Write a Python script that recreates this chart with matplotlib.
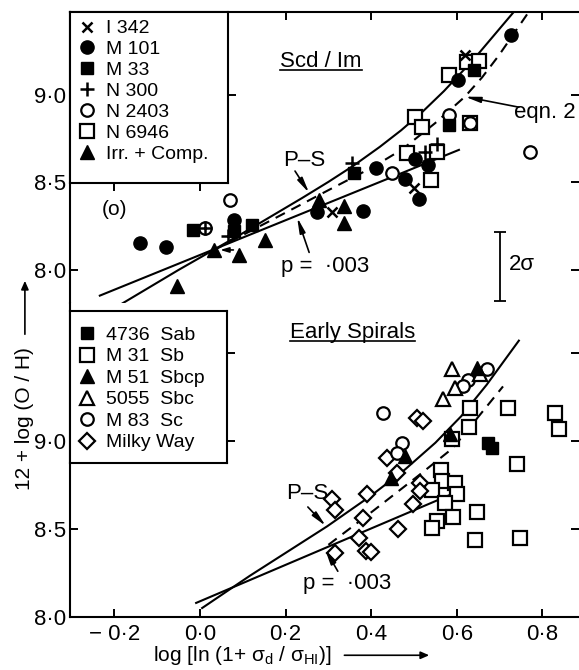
import matplotlib
matplotlib.use('Agg')
import matplotlib.pyplot as plt
from matplotlib.lines import Line2D
from matplotlib.patches import FancyArrowPatch
from matplotlib.ticker import FixedLocator, FuncFormatter

plt.rcParams['font.family'] = ['Liberation Sans', 'DejaVu Sans']
plt.rcParams['mathtext.fontset'] = 'custom'
plt.rcParams['mathtext.rm'] = 'Liberation Sans'
plt.rcParams['axes.linewidth'] = 1.5

# ---------------- Scd / Im panel ----------------
i342_x = [0.619, 0.308, 0.500]
i342_y = [9.229, 8.331, 8.469]
m101_x = [0.727, 0.603, 0.502, 0.533, 0.479, 0.512, 0.411, 0.273, 0.381, -0.140, -0.079, 0.079]
m101_y = [9.343, 9.086, 8.634, 8.600, 8.520, 8.406, 8.583, 8.331, 8.337, 8.154, 8.131, 8.286]
m33_x = [0.640, 0.582, 0.360, -0.016, 0.121, 0.079]
m33_y = [9.143, 8.829, 8.554, 8.229, 8.257, 8.223]
n300_x = [0.355, 0.012, 0.526, 0.554, 0.066]
n300_y = [8.611, 8.240, 8.674, 8.720, 8.196]
n2403_x = [0.012, 0.070, 0.449, 0.582, 0.631, 0.771]
n2403_y = [8.240, 8.400, 8.554, 8.886, 8.840, 8.674]
n6946_x = [0.624, 0.652, 0.582, 0.502, 0.519, 0.484, 0.554, 0.540, 0.631]
n6946_y = [9.189, 9.194, 9.114, 8.874, 8.817, 8.669, 8.674, 8.514, 8.840]
irr_x = [0.278, 0.336, 0.336, 0.152, 0.033, 0.091, -0.054]
irr_y = [8.400, 8.366, 8.269, 8.171, 8.114, 8.086, 7.909]

ps_top_x = [-0.194, -0.05, 0.10, 0.238, 0.30, 0.36, 0.42, 0.47, 0.52, 0.57, 0.64, 0.733]
ps_top_y = [7.79, 8.00, 8.21, 8.41, 8.503, 8.598, 8.703, 8.798, 8.904, 9.022, 9.205, 9.474]
eq2_top_x = [0.03, 0.168, 0.301, 0.402, 0.472, 0.549, 0.619, 0.659, 0.698, 0.768]
eq2_top_y = [8.11, 8.286, 8.457, 8.585, 8.688, 8.838, 8.99, 9.10, 9.225, 9.474]
p003_top_x = [-0.234, 0.605]
p003_top_y = [7.853, 8.686]

# ---------------- Early spirals panel ----------------
sab_x = [0.673, 0.682]
sab_y = [8.989, 8.960]
m31_x = [0.631, 0.720, 0.829, 0.839, 0.629, 0.589, 0.741, 0.563, 0.565, 0.596,
         0.542, 0.600, 0.572, 0.591, 0.554, 0.542, 0.648, 0.643, 0.748]
m31_y = [9.188, 9.188, 9.159, 9.068, 9.080, 9.011, 8.869, 8.835, 8.773, 8.761,
         8.722, 8.699, 8.648, 8.568, 8.545, 8.506, 8.594, 8.438, 8.449]
m51_x = [0.647, 0.584, 0.479, 0.447]
m51_y = [9.415, 9.040, 8.915, 8.790]
n5055_x = [0.589, 0.654, 0.596, 0.568]
n5055_y = [9.410, 9.380, 9.300, 9.240]
m83_x = [0.671, 0.626, 0.614, 0.428, 0.472, 0.460]
m83_y = [9.410, 9.347, 9.310, 9.160, 8.989, 8.932]
mw_x = [0.507, 0.521, 0.437, 0.460, 0.514, 0.514, 0.498, 0.390, 0.381, 0.463,
        0.371, 0.308, 0.315, 0.315, 0.388, 0.400]
mw_y = [9.131, 9.114, 8.903, 8.818, 8.761, 8.716, 8.642, 8.700, 8.563, 8.500,
        8.449, 8.670, 8.608, 8.364, 8.375, 8.369]

ps_bot_x = [0.005, 0.117, 0.297, 0.40, 0.48, 0.55, 0.61, 0.67, 0.745]
ps_bot_y = [8.051, 8.235, 8.515, 8.69, 8.84, 8.99, 9.14, 9.32, 9.57]
eq2_bot_x = [0.30, 0.404, 0.514, 0.591, 0.708]
eq2_bot_y = [8.41, 8.602, 8.81, 8.96, 9.31]
p003_bot_x = [-0.009, 0.60]
p003_bot_y = [8.08, 8.71]

x_ticks = [-0.2, 0.0, 0.2, 0.4, 0.6, 0.8]
y_ticks_top = [8.0, 8.5, 9.0]
y_ticks_bot = [8.0, 8.5, 9.0, 9.5]
y_labels_bot = [8.0, 8.5, 9.0]   # 9.5 carries a tick but no number

XLIM = (-0.3037, 0.8855)
YLIM_TOP = (7.811, 9.474)
YLIM_BOT = (8.0, 9.784)

DASH = (0, (5, 3.5))
FS_TICK = 16
FS_TXT = 16
FS_LEG = 14


def num(v):
    s = f'{abs(v):.1f}'.replace('.', '\u00b7')
    return ('\u2212 ' + s) if v < -1e-9 else s


def fmt_bot(v, pos=None):
    return num(v) if any(abs(v - u) < 1e-6 for u in y_labels_bot) else ''


def open_mk(m, ms=8.5):
    return dict(marker=m, ms=ms, mfc='white', mec='k', mew=1.6, ls='none', color='k')


def fill_mk(m, ms=9):
    return dict(marker=m, ms=ms, mfc='k', mec='k', mew=1.0, ls='none', color='k')


STY = {
    'x': dict(marker='x', ms=7, mew=1.8, ls='none', color='k'),
    '+': dict(marker='+', ms=10, mew=1.8, ls='none', color='k'),
    'fo': fill_mk('o', 9.5), 'fs': fill_mk('s', 9), 'f^': fill_mk('^', 10.5),
    'oo': open_mk('o', 9), 'os': open_mk('s', 9.5), 'o^': open_mk('^', 10.5),
    'oD': open_mk('D', 8.5),
}

ARROW = dict(arrowstyle='-|>,head_length=0.9,head_width=0.17', color='k',
             lw=1.2, shrinkA=0, shrinkB=0)

fig = plt.figure(figsize=(5.79, 6.70), dpi=100)
L, W = 70 / 579, 509 / 579
ax1 = fig.add_axes([L, 0.5478, W, 0.4343])
ax2 = fig.add_axes([L, 0.0791, W, 0.4687])

for ax, ylim, yt in ((ax1, YLIM_TOP, y_ticks_top), (ax2, YLIM_BOT, y_ticks_bot)):
    ax.set_xlim(*XLIM)
    ax.set_ylim(*ylim)
    ax.xaxis.set_major_locator(FixedLocator(x_ticks))
    ax.yaxis.set_major_locator(FixedLocator(yt))
    ax.xaxis.set_major_formatter(FuncFormatter(lambda v, p: num(v)))
    ax.spines['right'].set_visible(False)
    ax.tick_params(direction='in', length=6, width=1.4, labelsize=FS_TICK, right=True, left=True)
    ax.tick_params(axis='y', pad=3)

ax1.yaxis.set_major_formatter(FuncFormatter(lambda v, p: num(v)))
ax2.yaxis.set_major_formatter(FuncFormatter(fmt_bot))
ax1.spines['bottom'].set_visible(False)
ax1.tick_params(top=True, bottom=False, labelbottom=False)
ax2.spines['top'].set_visible(False)
ax2.tick_params(axis='x', top=False, bottom=True, pad=5)

# ---- top panel ----
ax1.plot(ps_top_x, ps_top_y, color='k', lw=1.5)
ax1.plot(eq2_top_x, eq2_top_y, color='k', lw=1.5, ls=DASH)
ax1.plot(p003_top_x, p003_top_y, color='k', lw=1.5)

ax1.plot(n6946_x, n6946_y, **STY['os'])
ax1.plot(n2403_x, n2403_y, **STY['oo'])
ax1.plot(m101_x, m101_y, **STY['fo'])
ax1.plot(m33_x, m33_y, **STY['fs'])
ax1.plot(irr_x, irr_y, **STY['f^'])
ax1.plot(n300_x, n300_y, **STY['+'])
ax1.plot(i342_x, i342_y, **STY['x'])

ax1.annotate('', xy=(0.047, 8.114), xytext=(0.078, 8.114),
             arrowprops=dict(arrowstyle='-|>,head_length=0.5,head_width=0.15', color='k',
                             lw=1.2, shrinkA=0, shrinkB=0))

t1 = ax1.text(0.283, 9.189, 'Scd / Im', fontsize=FS_TXT, ha='center', va='center')
ax1.text(0.243, 8.625, 'P\u2013S', fontsize=FS_TXT, ha='center', va='center')
ax1.annotate('', xy=(0.255, 8.44), xytext=(0.222, 8.565), arrowprops=ARROW)
ax1.text(0.292, 8.02, 'p =  \u00b7003', fontsize=FS_TXT, ha='center', va='center')
ax1.annotate('', xy=(0.227, 8.30), xytext=(0.255, 8.10), arrowprops=ARROW)
ax1.text(0.806, 8.897, 'eqn. 2', fontsize=FS_TXT, ha='center', va='center')
ax1.annotate('', xy=(0.619, 8.99), xytext=(0.745, 8.93), arrowprops=ARROW)
ax1.text(-0.199, 8.343, '(o)', fontsize=15, ha='center', va='center')

ax1.errorbar([0.701], [8.02], yerr=[[0.197], [0.197]], fmt='none', ecolor='k',
             elinewidth=1.3, capsize=4.5, capthick=1.3)
ax1.text(0.752, 8.03, '2\u03c3', fontsize=FS_TXT, ha='center', va='center')

# ---- bottom panel ----
ax2.plot(ps_bot_x, ps_bot_y, color='k', lw=1.5)
ax2.plot(eq2_bot_x, eq2_bot_y, color='k', lw=1.5, ls=DASH)
ax2.plot(p003_bot_x, p003_bot_y, color='k', lw=1.5)

ax2.plot(m31_x, m31_y, **STY['os'])
ax2.plot(mw_x, mw_y, **STY['oD'])
ax2.plot(m83_x, m83_y, **STY['oo'])
ax2.plot(n5055_x, n5055_y, **STY['o^'])
ax2.plot(m51_x, m51_y, **STY['f^'])
ax2.plot(sab_x, sab_y, **STY['fs'])

t2 = ax2.text(0.357, 9.614, 'Early Spirals', fontsize=FS_TXT, ha='center', va='center')
ax2.text(0.25, 8.70, 'P\u2013S', fontsize=FS_TXT, ha='center', va='center')
ax2.annotate('', xy=(0.294, 8.517), xytext=(0.252, 8.625), arrowprops=ARROW)
ax2.text(0.343, 8.19, 'p =  \u00b7003', fontsize=FS_TXT, ha='center', va='center')
ax2.annotate('', xy=(0.292, 8.386), xytext=(0.322, 8.26), arrowprops=ARROW)


# ---- legends drawn in framed insets ----
def legend_box(ax, x0, x1, y0, y1, xt, yt, keys, labels, spacing, top):
    lax = ax.inset_axes([x0, y0, x1 - x0, y1 - y0], transform=ax.transData, zorder=6)
    lax.set_xlim(x0, x1)
    lax.set_ylim(y0, y1)
    lax.set_facecolor('white')
    lax.xaxis.set_major_locator(FixedLocator(xt))
    lax.yaxis.set_major_locator(FixedLocator(yt))
    lax.tick_params(direction='out', length=6, width=1.4, labelbottom=False, labelleft=False,
                    left=False, top=False, right=True, bottom=bool(xt))
    handles = [Line2D([], [], **STY[k]) for k in keys]
    lax.legend(handles, labels, loc='upper left', bbox_to_anchor=(0, top), frameon=False,
               fontsize=FS_LEG, labelspacing=spacing, handlelength=0.9, handletextpad=0.55,
               borderaxespad=0.05, borderpad=0.35)
    return lax


legend_box(ax1, XLIM[0], 0.065, 8.497, YLIM_TOP[1], [-0.2, 0.0], [9.0],
           ['x', 'fo', 'fs', '+', 'oo', 'os', 'f^'],
           ['I 342', 'M 101', 'M 33', 'N 300', 'N 2403', 'N 6946', 'Irr. + Comp.'], 0.17, 1.0)
legend_box(ax2, XLIM[0], 0.063, 8.875, 9.739, [], [9.0, 9.5],
           ['fs', 'os', 'f^', 'o^', 'oo', 'oD'],
           ['4736  Sab', 'M 31  Sb', 'M 51  Sbcp', '5055  Sbc', 'M 83  Sc', 'Milky Way'], 0.2, 0.95)

# axis titles with arrows
fig.text(0.043, 0.376, '12 + log (O / H)', rotation=90, fontsize=15, ha='center', va='center')
fig.patches.append(FancyArrowPatch(
    (0.043, 0.497), (0.043, 0.585), transform=fig.transFigure,
    arrowstyle='-|>,head_length=5,head_width=2.2', color='k', lw=1.2))
fig.text(0.418, 0.022, 'log [ln (1+ \u03c3$_{\\rm d}$ / \u03c3$_{\\rm HI}$)]', fontsize=15,
         ha='center', va='center')
fig.patches.append(FancyArrowPatch(
    (0.590, 0.022), (0.746, 0.022), transform=fig.transFigure,
    arrowstyle='-|>,head_length=5,head_width=2.2', color='k', lw=1.2))

# underline the panel titles
fig.canvas.draw()
rend = fig.canvas.get_renderer()
for ax, t in ((ax1, t1), (ax2, t2)):
    bb = t.get_window_extent(rend)
    inv = ax.transData.inverted()
    (ux0, uy), (ux1, _) = inv.transform([[bb.x0, bb.y0 + 2], [bb.x1, bb.y0 + 2]])
    ax.plot([ux0, ux1], [uy, uy], color='k', lw=1.2)

fig.savefig('out.png', dpi=100)
